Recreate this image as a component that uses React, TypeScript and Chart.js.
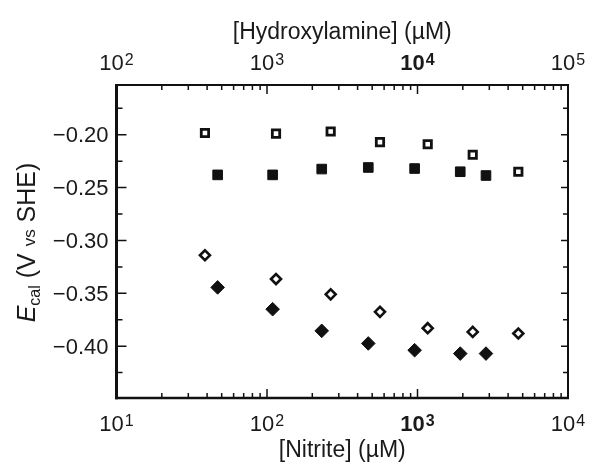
import React, { useEffect, useRef } from "react";
import { Chart, registerables } from "chart.js";

Chart.register(...registerables);

// Nitrite concentrations (µM) for filled markers (bottom axis)
const nitriteX = [47, 109, 231, 471, 957, 1923, 2851];
// Hydroxylamine concentrations (µM) for open markers (top axis)
const hydroxylamineX = [387, 1148, 2649, 5632, 11690, 23280, 46770];

const openSquaresY = [-0.1984, -0.199, -0.197, -0.207, -0.209, -0.219, -0.235];
const filledSquaresY = [-0.238, -0.238, -0.2325, -0.231, -0.232, -0.235, -0.2386];
const openDiamondsY = [-0.314, -0.3365, -0.351, -0.3675, -0.383, -0.3865, -0.388];
const filledDiamondsY = [-0.3444, -0.365, -0.3855, -0.3974, -0.4038, -0.407, -0.407];

const nitriteDecades = [10, 100, 1000, 10000];
const nitriteExps = ["1", "2", "3", "4"];
const hydroxDecades = [100, 1000, 10000, 100000];
const hydroxExps = ["2", "3", "4", "5"];
const yMajorTicks = [-0.2, -0.25, -0.3, -0.35, -0.4];
const yMajorLabels = ["\u22120.20", "\u22120.25", "\u22120.30", "\u22120.35", "\u22120.40"];
const yMinorTicks = [-0.175, -0.225, -0.275, -0.325, -0.375, -0.425];
const minorMultipliers = [2, 3, 4, 5, 6, 7, 8, 9];

const FONT = '"Liberation Sans", Arial, Helvetica, sans-serif';
const INK = "#111";
const TEXT = "#1a1a1a";

function drawPow(ctx: CanvasRenderingContext2D, cx: number, cy: number, exp: string, bold: boolean) {
  const base = (bold ? "bold " : "") + "22px " + FONT;
  const sup = (bold ? "bold " : "") + "16px " + FONT;
  ctx.font = base;
  const w1 = ctx.measureText("10").width;
  ctx.font = sup;
  const w2 = ctx.measureText(exp).width;
  const total = w1 + 1 + w2;
  const sx = cx - total / 2;
  ctx.textAlign = "left";
  ctx.textBaseline = "alphabetic";
  ctx.font = base;
  ctx.fillText("10", sx, cy + 8);
  ctx.font = sup;
  ctx.fillText(exp, sx + w1 + 1, cy + 2.5);
}

const framePlugin = {
  id: "frame",
  afterDraw(chart: any) {
    const { ctx, chartArea: a, scales } = chart;
    const xb = scales.x;
    const xt = scales.xTop;
    const y = scales.y;
    ctx.save();
    ctx.strokeStyle = INK;
    ctx.fillStyle = TEXT;
    ctx.lineWidth = 1.5;
    ctx.beginPath();
    // bottom ticks (inward)
    nitriteDecades.forEach((d, i) => {
      const px = xb.getPixelForValue(d);
      ctx.moveTo(px, a.bottom);
      ctx.lineTo(px, a.bottom - 9);
      if (i < nitriteDecades.length - 1) {
        minorMultipliers.forEach((m) => {
          const p = xb.getPixelForValue(d * m);
          ctx.moveTo(p, a.bottom);
          ctx.lineTo(p, a.bottom - 5);
        });
      }
    });
    // top ticks
    hydroxDecades.forEach((d, i) => {
      const px = xt.getPixelForValue(d);
      ctx.moveTo(px, a.top);
      ctx.lineTo(px, a.top + 9);
      if (i < hydroxDecades.length - 1) {
        minorMultipliers.forEach((m) => {
          const p = xt.getPixelForValue(d * m);
          ctx.moveTo(p, a.top);
          ctx.lineTo(p, a.top + 5);
        });
      }
    });
    // y ticks left and right
    yMajorTicks.forEach((v) => {
      const py = y.getPixelForValue(v);
      ctx.moveTo(a.left, py);
      ctx.lineTo(a.left + 10, py);
      ctx.moveTo(a.right, py);
      ctx.lineTo(a.right - 7, py);
    });
    yMinorTicks.forEach((v) => {
      const py = y.getPixelForValue(v);
      ctx.moveTo(a.left, py);
      ctx.lineTo(a.left + 6, py);
      ctx.moveTo(a.right, py);
      ctx.lineTo(a.right - 5, py);
    });
    ctx.stroke();

    // frame lines
    const line = (x1: number, y1: number, x2: number, y2: number, w: number) => {
      ctx.lineWidth = w;
      ctx.beginPath();
      ctx.moveTo(x1, y1);
      ctx.lineTo(x2, y2);
      ctx.stroke();
    };
    line(a.left - 1, a.top, a.right + 1, a.top, 2);
    line(a.right, a.top, a.right, a.bottom, 2);
    line(a.left - 1.5, a.bottom, a.right + 1, a.bottom, 2.5);
    line(a.left, a.top - 1, a.left, a.bottom + 1.2, 3);

    // y tick labels
    ctx.font = "22px " + FONT;
    ctx.textAlign = "right";
    ctx.textBaseline = "alphabetic";
    yMajorTicks.forEach((v, i) => {
      const py = y.getPixelForValue(v);
      ctx.fillText(yMajorLabels[i], a.left - 8, py + 7.5);
    });

    // x tick labels
    nitriteDecades.forEach((d, i) => {
      drawPow(ctx, xb.getPixelForValue(d), 423, nitriteExps[i], i === 2);
    });
    hydroxDecades.forEach((d, i) => {
      drawPow(ctx, xt.getPixelForValue(d), 62, hydroxExps[i], i === 2);
    });

    // axis titles
    const midX = (a.left + a.right) / 2;
    ctx.textAlign = "center";
    ctx.font = "23px " + FONT;
    ctx.fillText("[Nitrite] (\u00b5M)", midX, 457);
    ctx.fillText("[Hydroxylamine] (\u00b5M)", midX, 39);

    // y title, rotated, with italic E and subscript
    const parts = [
      { t: "E", f: "italic 25px " + FONT, dy: 0 },
      { t: "cal", f: "16px " + FONT, dy: 5 },
      { t: " (V ", f: "25px " + FONT, dy: 0 },
      { t: "vs", f: "17px " + FONT, dy: 0 },
      { t: " SHE)", f: "25px " + FONT, dy: 0 },
    ];
    ctx.save();
    ctx.translate(26, (a.top + a.bottom) / 2 + 1);
    ctx.rotate(-Math.PI / 2);
    ctx.textAlign = "left";
    let total = 0;
    parts.forEach((p) => {
      ctx.font = p.f;
      total += ctx.measureText(p.t).width;
    });
    let sx = -total / 2;
    parts.forEach((p) => {
      ctx.font = p.f;
      ctx.fillText(p.t, sx, 8.5 + p.dy);
      sx += ctx.measureText(p.t).width;
    });
    ctx.restore();
    ctx.restore();
  },
};

export default function App() {
  const ref = useRef<HTMLCanvasElement>(null);
  useEffect(() => {
    if (!ref.current) return;
    const pts = (xs: number[], ys: number[]) => xs.map((x, i) => ({ x, y: ys[i] }));
    const chart = new Chart(ref.current, {
      type: "scatter",
      data: {
        datasets: [
          {
            label: "Hydroxylamine (open squares)",
            data: pts(hydroxylamineX, openSquaresY),
            xAxisID: "xTop",
            yAxisID: "y",
            pointStyle: "rect",
            pointRadius: 5.2,
            pointBorderWidth: 2.8,
            pointBorderColor: INK,
            pointBackgroundColor: "#fff",
          },
          {
            label: "Nitrite (filled squares)",
            data: pts(nitriteX, filledSquaresY),
            xAxisID: "x",
            yAxisID: "y",
            pointStyle: "rect",
            pointRadius: 6.8,
            pointBorderWidth: 1,
            pointBorderColor: INK,
            pointBackgroundColor: INK,
          },
          {
            label: "Hydroxylamine (open diamonds)",
            data: pts(hydroxylamineX, openDiamondsY),
            xAxisID: "xTop",
            yAxisID: "y",
            pointStyle: "rectRot",
            pointRadius: 5,
            pointBorderWidth: 2.6,
            pointBorderColor: INK,
            pointBackgroundColor: "#fff",
          },
          {
            label: "Nitrite (filled diamonds)",
            data: pts(nitriteX, filledDiamondsY),
            xAxisID: "x",
            yAxisID: "y",
            pointStyle: "rectRot",
            pointRadius: 6.8,
            pointBorderWidth: 1,
            pointBorderColor: INK,
            pointBackgroundColor: INK,
          },
        ],
      },
      options: {
        responsive: false,
        animation: false,
        events: [],
        layout: { padding: { left: 0, right: 32, top: 0, bottom: 0 } },
        plugins: { legend: { display: false }, tooltip: { enabled: false }, title: { display: false } },
        scales: {
          x: {
            type: "logarithmic",
            position: "bottom",
            min: 10,
            max: 10000,
            grid: { display: false },
            border: { display: false },
            ticks: { display: false },
            afterFit: (s: any) => {
              s.height = 71;
            },
          },
          xTop: {
            type: "logarithmic",
            position: "top",
            min: 100,
            max: 100000,
            grid: { display: false },
            border: { display: false },
            ticks: { display: false },
            afterFit: (s: any) => {
              s.height = 85;
            },
          },
          y: {
            type: "linear",
            position: "left",
            min: -0.449,
            max: -0.153,
            grid: { display: false },
            border: { display: false },
            ticks: { display: false },
            afterFit: (s: any) => {
              s.width = 116.5;
            },
          },
        },
      } as any,
      plugins: [framePlugin],
    });
    return () => chart.destroy();
  }, []);
  return (
    <canvas
      ref={ref}
      width={600}
      height={469}
      style={{ position: "absolute", left: 0, top: 0, width: 600, height: 469, background: "#fff" }}
    />
  );
}
